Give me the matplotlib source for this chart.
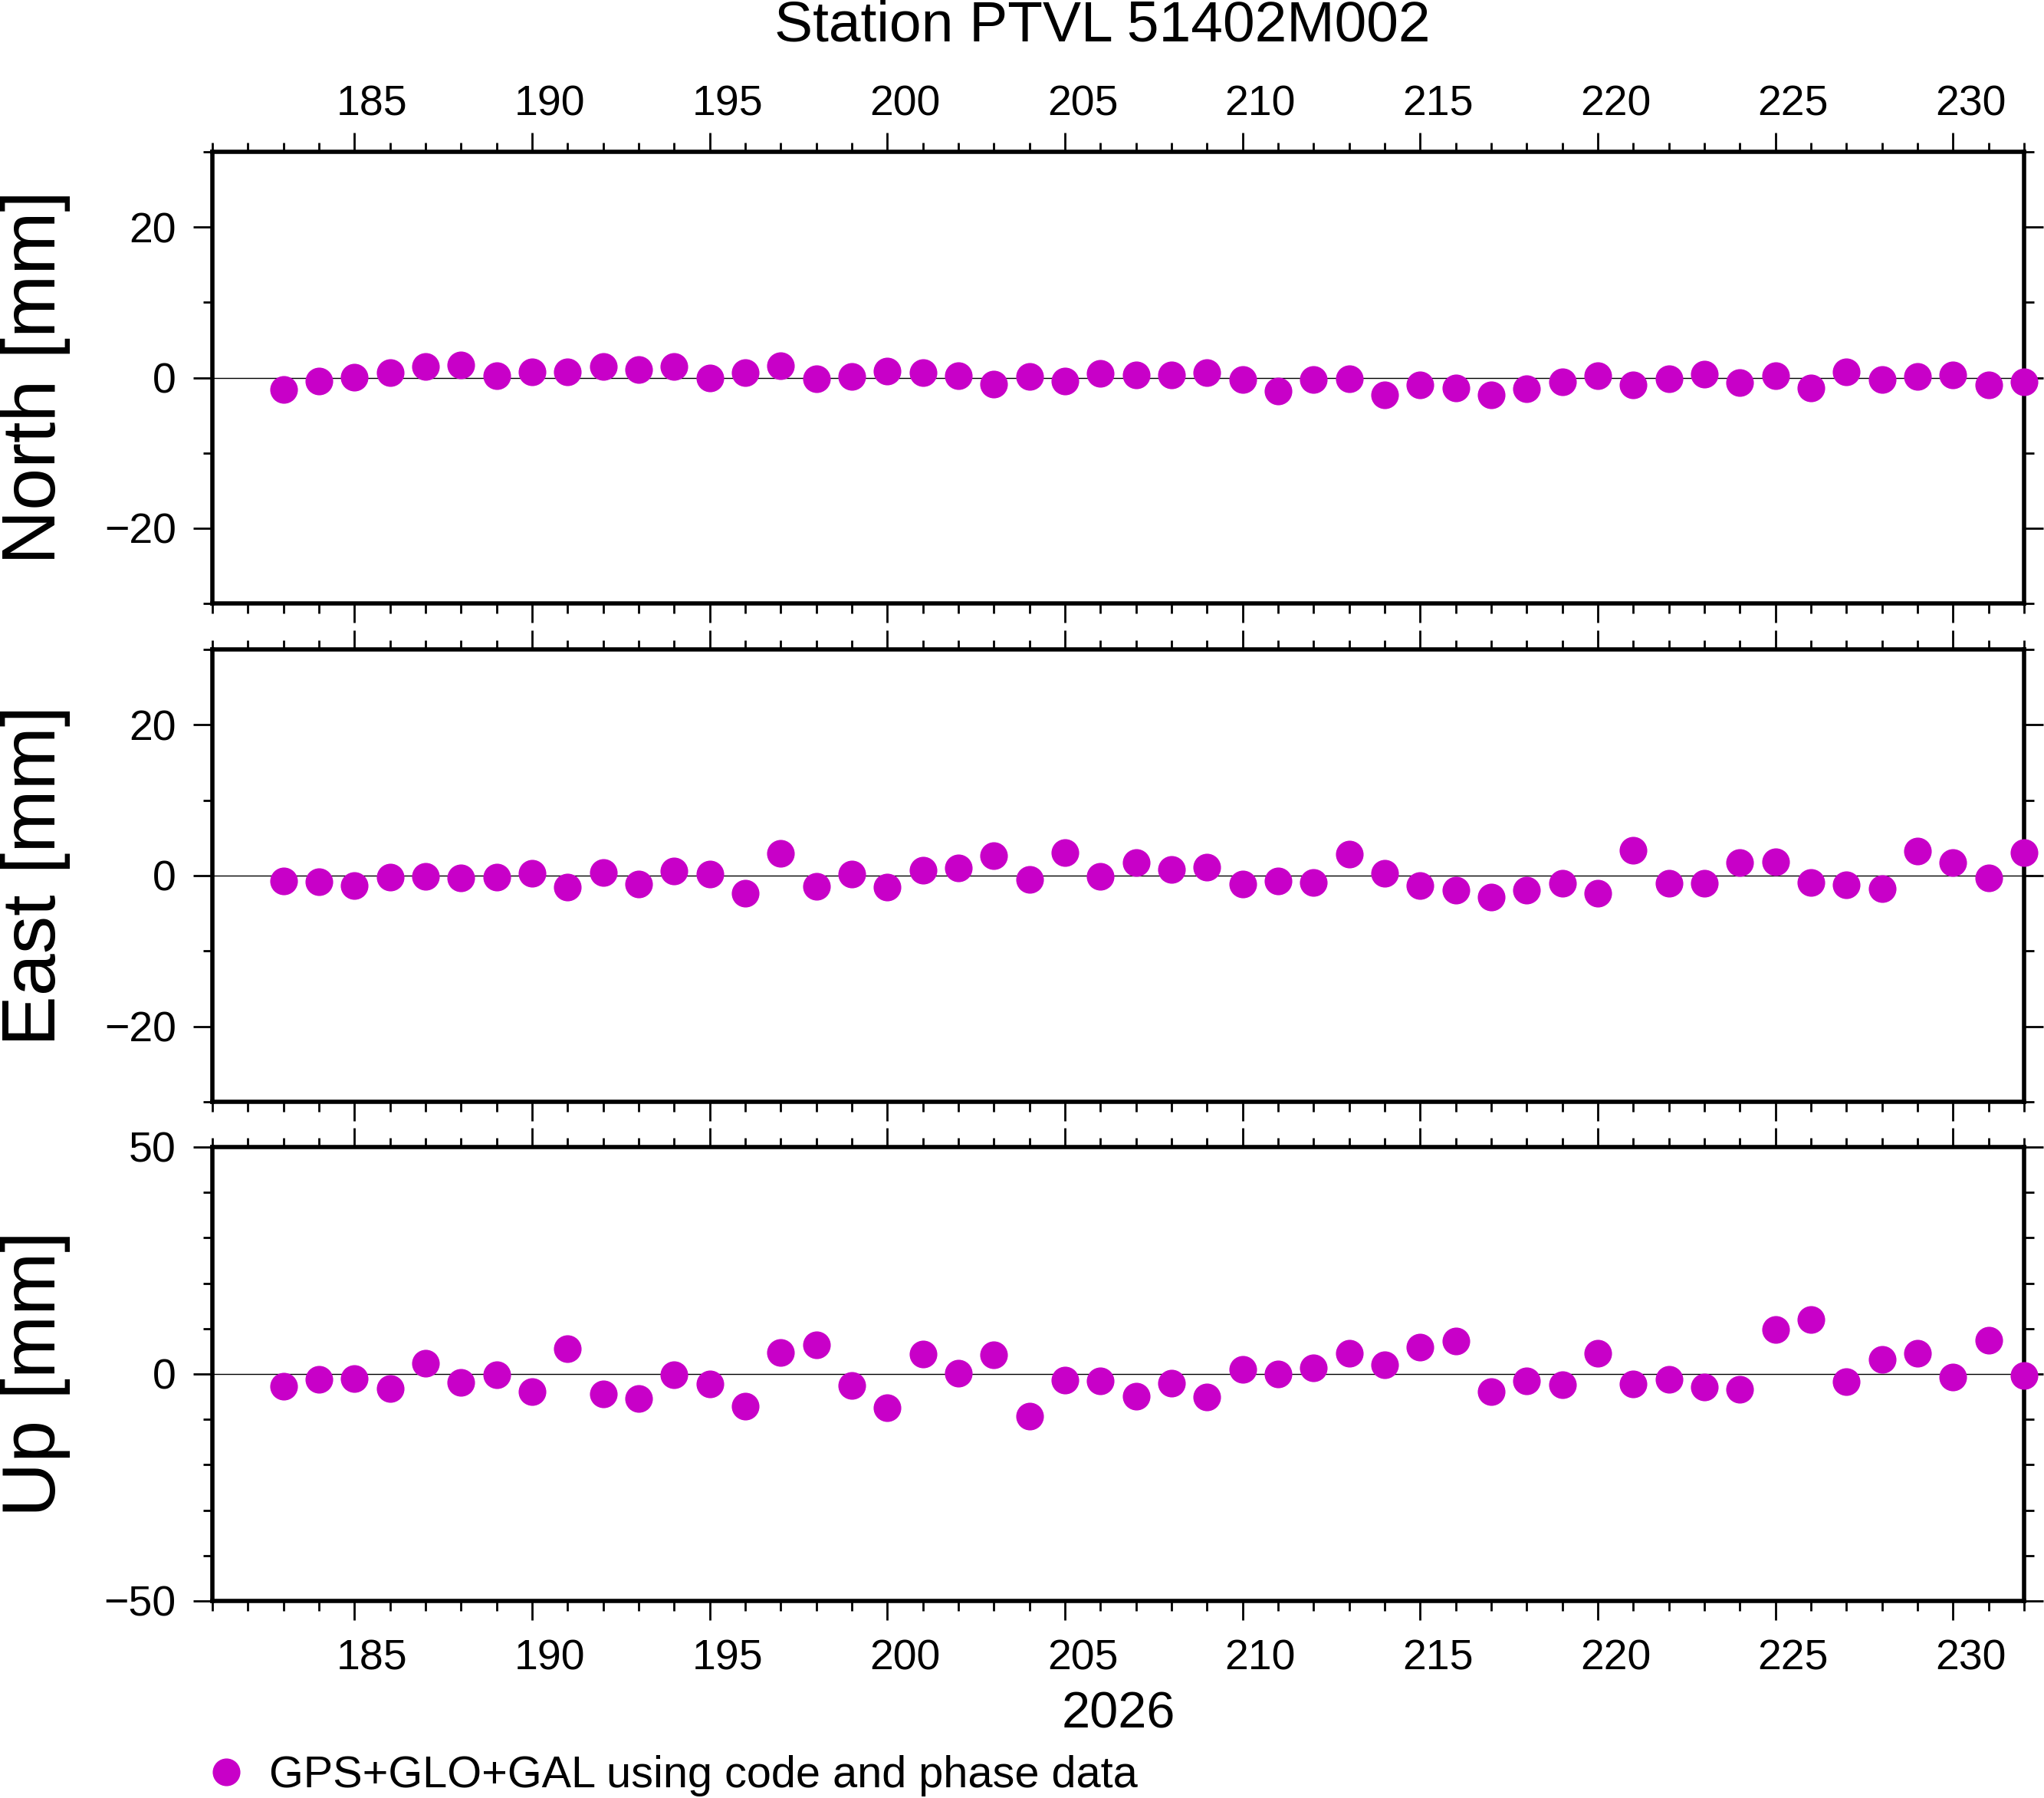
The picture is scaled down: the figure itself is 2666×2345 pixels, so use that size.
import numpy as np
import matplotlib
matplotlib.use("Agg")
import matplotlib.pyplot as plt
from matplotlib.ticker import MultipleLocator
from matplotlib.lines import Line2D

plt.rcParams['font.family'] = ['Liberation Sans', 'DejaVu Sans']

# day of year 2026
days = np.arange(183, 233)

north = [-1.55, -0.44, 0.07, 0.68, 1.49, 1.69, 0.27, 0.78, 0.78, 1.49,
         1.11, 1.49, -0.03, 0.68, 1.62, -0.14, 0.17, 0.88, 0.68, 0.27,
         -0.84, 0.17, -0.44, 0.57, 0.37, 0.37, 0.68, -0.24, -1.76, -0.24,
         -0.14, -2.26, -0.95, -1.35, -2.26, -1.45, -0.54, 0.27, -0.95, -0.14,
         0.47, -0.64, 0.27, -1.35, 0.78, -0.24, 0.17, 0.37, -0.95, -0.54]

east = [-0.74, -0.84, -1.35, -0.24, -0.14, -0.34, -0.24, 0.27, -1.55, 0.37,
        -1.15, 0.57, 0.17, -2.36, 2.91, -1.45, 0.17, -1.55, 0.68, 0.98,
        2.60, -0.54, 3.01, -0.14, 1.69, 0.78, 1.08, -1.15, -0.74, -0.95,
        2.80, 0.27, -1.35, -1.96, -2.87, -1.96, -1.05, -2.36, 3.31, -1.05,
        -1.05, 1.69, 1.79, -0.95, -1.25, -1.76, 3.21, 1.69, -0.34, 3.01]

up = [-2.71, -1.19, -1.02, -3.22, 2.37, -1.86, -0.17, -3.90, 5.59, -4.41,
      -5.42, -0.17, -2.20, -7.12, 4.75, 6.44, -2.54, -7.46, 4.41, 0.17,
      4.24, -9.32, -1.36, -1.53, -4.92, -2.03, -5.08, 1.02, 0.00, 1.36,
      4.58, 2.03, 5.93, 7.29, -3.90, -1.53, -2.37, 4.58, -2.20, -1.19,
      -2.88, -3.39, 9.83, 12.03, -1.69, 3.22, 4.58, -0.68, 7.46, -0.34]

panels = ["North [mm]", "East [mm]", "Up [mm]"]
ylims = [(-30, 30), (-30, 30), (-50, 50)]
ymajor = [20, 20, 50]
xlabels = list(range(185, 231, 5))

MAGENTA = '#c800c8'
W, H = 2666, 2345

fig = plt.figure(figsize=(W / 100, H / 100), dpi=100)

# panel frames in pixels (top, bottom)
frames = [(198, 787), (847, 1437), (1496, 2088)]
x0, x1 = 277, 2640

axes = []
for (top, bot), name, yl, ym, vals in zip(frames, panels, ylims, ymajor, [north, east, up]):
    ax = fig.add_axes([x0 / W, 1 - bot / H, (x1 - x0) / W, (bot - top) / H])
    ax.axhline(0, color='black', lw=1.0, zorder=1)
    ax.plot(days, vals, 'o', ms=26, color=MAGENTA, mec='none', clip_on=False, zorder=3)
    ax.set_xlim(181, 232)
    ax.set_ylim(*yl)
    ax.xaxis.set_major_locator(MultipleLocator(5))
    ax.xaxis.set_minor_locator(MultipleLocator(1))
    ax.yaxis.set_major_locator(MultipleLocator(ym))
    ax.yaxis.set_minor_locator(MultipleLocator(10))
    ax.tick_params(which='both', direction='out', top=True, right=True, width=2.0)
    ax.tick_params(which='major', length=18)
    ax.tick_params(which='minor', length=9)
    ax.tick_params(axis='y', labelsize=40, pad=16)
    ax.tick_params(axis='x', labelbottom=False, labeltop=False)
    for s in ax.spines.values():
        s.set_linewidth(4.0)
    fig.text(47 / W, 1 - (top + bot) / 2 / H, name, rotation=90,
             ha='center', va='center', fontsize=71)
    axes.append(ax)

# day labels sit in the middle of each day interval
for ax, side, pad in [(axes[0], 'top', 25.5), (axes[2], 'bottom', 36)]:
    sec = ax.secondary_xaxis(side)
    sec.set_xticks([d + 0.5 for d in xlabels], labels=[str(d) for d in xlabels])
    sec.tick_params(length=0, labelsize=40, pad=pad)
    sec.spines[side].set_visible(False)

fig.text(1438 / W, 1 - 34 / H, "Station PTVL 51402M002", ha='center', va='center', fontsize=54)
fig.text(1459 / W, 1 - 2236 / H, "2026", ha='center', va='center', fontsize=48)

handle = Line2D([], [], marker='o', ls='none', ms=26, color=MAGENTA, mec='none')
fig.legend(handles=[handle], labels=["GPS+GLO+GAL using code and phase data"],
           loc='center left', bbox_to_anchor=(266 / W, 1 - 2316 / H), frameon=False,
           borderaxespad=0, borderpad=0, handlelength=1.0, handletextpad=0.48, fontsize=41.5)

fig.savefig("out.png", dpi=100)
